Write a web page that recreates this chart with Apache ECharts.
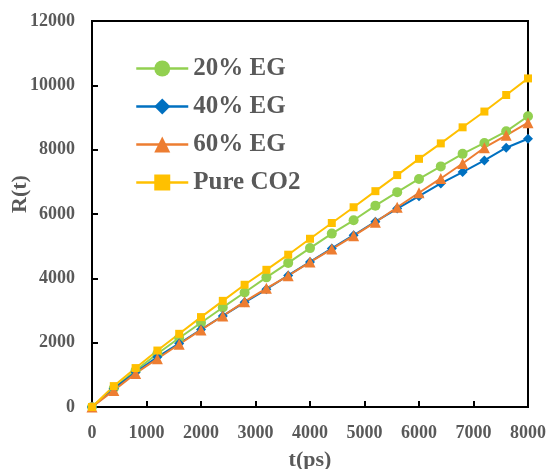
<!DOCTYPE html>
<html>
<head>
<meta charset="utf-8">
<script src="https://cdn.jsdelivr.net/npm/echarts@6/dist/echarts.min.js"></script>
<style>
html, body { margin: 0; padding: 0; background: #fff; }
#main { width: 549px; height: 469px; }
</style>
</head>
<body>
<div id="main"></div>
<script>
// time axis (ps)
var tValues = [0, 400, 800, 1200, 1600, 2000, 2400, 2800, 3200, 3600, 4000,
               4400, 4800, 5200, 5600, 6000, 6400, 6800, 7200, 7600, 8000];

// R(t)
var eg20 = [0, 585, 1135, 1655, 2145, 2620, 3095, 3560, 4030, 4480, 4940,
            5390, 5805, 6260, 6680, 7090, 7480, 7870, 8210, 8570, 9040];
var eg40 = [0, 570, 1080, 1555, 1975, 2410, 2830, 3255, 3660, 4090, 4510,
            4930, 5340, 5760, 6170, 6555, 6950, 7305, 7665, 8060, 8340];
var eg60 = [0, 515, 1045, 1500, 1950, 2395, 2830, 3275, 3690, 4080, 4505,
            4910, 5320, 5745, 6210, 6660, 7105, 7570, 8060, 8445, 8840];
var pureCO2 = [0, 650, 1210, 1755, 2275, 2795, 3300, 3800, 4265, 4735, 5230,
               5720, 6210, 6710, 7210, 7715, 8195, 8695, 9185, 9700, 10215];

var seriesNames = ['20% EG', '40% EG', '60% EG', 'Pure CO2'];
var seriesData = [eg20, eg40, eg60, pureCO2];
var colors = ['#92D050', '#0070C0', '#ED7D31', '#FFC000'];
var symbols = ['circle', 'diamond', 'triangle', 'rect'];
var symbolSizes = [10, 10, 11, 8];

var textColor = '#595959';
var fontFam = '"Liberation Serif", "Times New Roman", serif';

var myChart = echarts.init(document.getElementById('main'));

function pairs(ys) {
    var out = [];
    for (var i = 0; i < tValues.length; i++) {
        out.push([tValues[i], ys[i]]);
    }
    return out;
}

// plain numbers, no thousands separator
function plain(v) {
    return String(v);
}

var series = [];
for (var k = 0; k < seriesNames.length; k++) {
    series.push({
        name: seriesNames[k],
        type: 'line',
        data: pairs(seriesData[k]),
        symbol: symbols[k],
        symbolSize: symbolSizes[k],
        showAllSymbol: true,
        color: colors[k],
        lineStyle: { width: 2, color: colors[k] },
        itemStyle: { color: colors[k] }
    });
}

var option = {
    animation: false,
    backgroundColor: '#fff',
    grid: {
        left: 92,
        right: 21,
        top: 21,
        bottom: 62,
        show: true,
        borderColor: '#000',
        borderWidth: 2,
        containLabel: false
    },
    legend: {
        data: seriesNames,
        orient: 'vertical',
        left: 135,
        top: 56,
        padding: 0,
        itemWidth: 52,
        itemHeight: 20,
        itemGap: 13,
        lineStyle: { width: 2.5 },
        textStyle: {
            color: textColor,
            fontSize: 25,
            fontWeight: 'bold',
            fontFamily: fontFam
        }
    },
    xAxis: {
        type: 'value',
        min: 0,
        max: 8000,
        interval: 1000,
        axisLine: { show: true, lineStyle: { color: '#000', width: 2 } },
        axisTick: { show: true, inside: true, length: 6, lineStyle: { color: '#000', width: 2 } },
        splitLine: { show: false },
        axisLabel: {
            formatter: plain,
            color: textColor,
            fontSize: 18,
            fontWeight: 'bold',
            fontFamily: fontFam,
            margin: 17
        }
    },
    yAxis: {
        type: 'value',
        min: 0,
        max: 12000,
        interval: 2000,
        axisLine: { show: true, lineStyle: { color: '#000', width: 2 } },
        axisTick: { show: true, inside: true, length: 6, lineStyle: { color: '#000', width: 2 } },
        splitLine: { show: false },
        axisLabel: {
            formatter: plain,
            color: textColor,
            fontSize: 18,
            fontWeight: 'bold',
            fontFamily: fontFam,
            margin: 17
        }
    },
    graphic: [
        {
            type: 'text',
            x: 20,
            y: 194,
            rotation: Math.PI / 2,
            style: {
                text: 'R(t)',
                fill: textColor,
                font: 'bold 22px ' + fontFam,
                align: 'center',
                verticalAlign: 'middle'
            }
        },
        {
            type: 'text',
            x: 310,
            y: 460,
            style: {
                text: 't(ps)',
                fill: textColor,
                font: 'bold 22px ' + fontFam,
                align: 'center',
                verticalAlign: 'middle'
            }
        }
    ],
    series: series
};

myChart.setOption(option);
</script>
</body>
</html>
